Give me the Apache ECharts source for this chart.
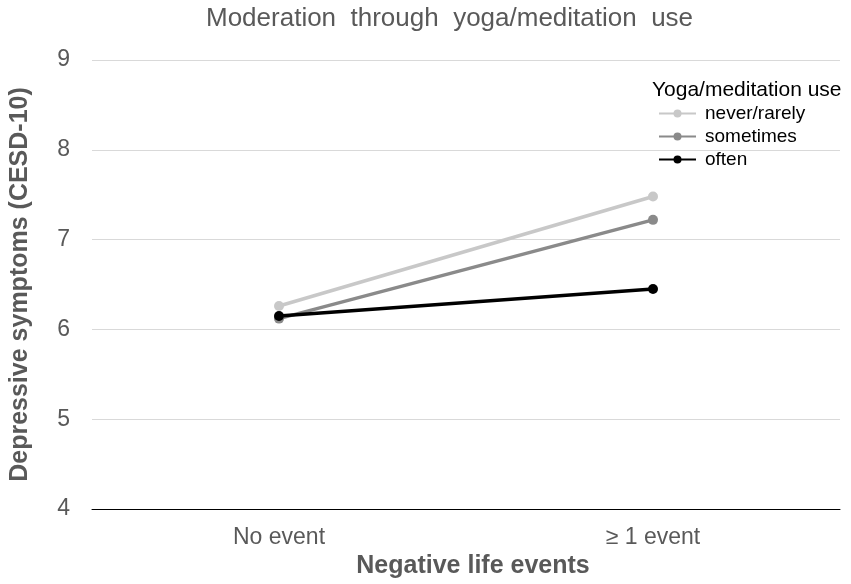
<!DOCTYPE html>
<html><head><meta charset="utf-8">
<script src="https://cdn.jsdelivr.net/npm/echarts@6/dist/echarts.min.js"></script>
<style>html,body{margin:0;padding:0;background:#fff}#c{width:851px;height:584px}</style>
</head><body><div id="c"></div>
<script>
var categories = ['No event', '≥ 1 event'];
var neverRarely = [6.26, 7.48];
var sometimes = [6.12, 7.22];
var often = [6.15, 6.45];
var yTicks = [4, 5, 6, 7, 8, 9];
var seriesNames = ['never/rarely', 'sometimes', 'often'];
var colors = ['#c8c8c8', '#8a8a8a', '#000000'];

var chart = echarts.init(document.getElementById('c'));
var font = 'Liberation Sans, Arial, sans-serif';
function mk(name, data, color) {
  return {
    name: name, type: 'line', data: data,
    symbol: 'circle', symbolSize: 10,
    lineStyle: { width: 3.5, color: color },
    itemStyle: { color: color },
    emphasis: { disabled: true }, animation: false
  };
}
chart.setOption({
  animation: false,
  title: {
    text: 'Moderation  through  yoga/meditation  use',
    left: 201, top: 1,
    textStyle: { color: '#595959', fontSize: 26, fontWeight: 'normal', fontFamily: font }
  },
  grid: { left: 90, right: 11, top: 60, bottom: 75, containLabel: false },
  legend: {
    orient: 'vertical', left: 653, top: 99,
    itemWidth: 37, itemHeight: 10, itemGap: 4,
    data: seriesNames,
    textStyle: { color: '#000', fontSize: 19, fontFamily: font, padding: [0, 0, 0, 4] },
    selectedMode: false
  },
  graphic: [{
    type: 'text', left: 652, top: 80,
    style: { text: 'Yoga/meditation use', fill: '#000', font: '21px ' + font }
  }],
  xAxis: {
    type: 'category', data: categories,
    name: 'Negative life events', nameLocation: 'middle', nameGap: 39,
    nameTextStyle: { color: '#595959', fontSize: 25, fontWeight: 'bold', fontFamily: font, padding: [0, 0, 0, 14] },
    axisLine: { lineStyle: { color: '#000', width: 1 } },
    axisTick: { show: false },
    axisLabel: { color: '#595959', fontSize: 23, fontFamily: font, margin: 17 }
  },
  yAxis: {
    type: 'value', min: yTicks[0], max: yTicks[yTicks.length - 1], interval: 1,
    name: 'Depressive symptoms (CESD-10)', nameLocation: 'middle', nameGap: 59,
    nameTextStyle: { color: '#595959', fontSize: 25, fontWeight: 'bold', fontFamily: font },
    axisLine: { show: false }, axisTick: { show: false },
    axisLabel: { color: '#595959', fontSize: 23, fontFamily: font, margin: 22 },
    splitLine: { lineStyle: { color: '#d9d9d9', width: 1 } }
  },
  series: [
    mk(seriesNames[0], neverRarely, colors[0]),
    mk(seriesNames[1], sometimes, colors[1]),
    mk(seriesNames[2], often, colors[2])
  ]
});
</script></body></html>
